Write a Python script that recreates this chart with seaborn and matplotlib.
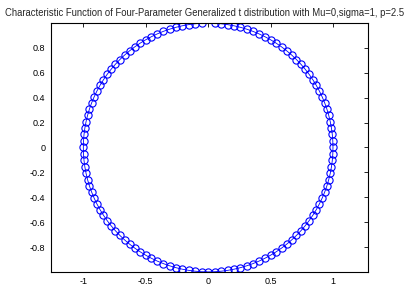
import numpy as np
import seaborn as sns
from matplotlib import pyplot as plt

# angles (degrees) of the plotted points on the unit circle, in drawing order
angle_deg = [87, 84, 81, 78, 75, 72, 69, 66, 63, 60, 57, 54, 51, 48, 45,
             42, 39, 36, 33, 30, 27, 24, 21, 18, 15, 12, 9, 6, 3, 0,
             357, 354, 351, 348, 345, 342, 339, 336, 333, 330, 327, 324,
             321, 318, 315, 312, 309, 306, 303, 300, 297, 294, 291, 288,
             285, 282, 279, 276, 273, 270, 267, 264, 261, 258, 255, 252,
             249, 246, 243, 240, 237, 234, 231, 228, 225, 222, 219, 216,
             213, 210, 207, 204, 201, 198, 195, 192, 189, 186, 183, 180,
             177, 174, 171, 168, 165, 162, 159, 156, 153, 150, 147, 144,
             141, 138, 135, 132, 129, 126, 123, 120, 117, 114, 111, 108,
             105, 102, 99, 96, 93]
radius = 1.0

x_ticks = [-1, -0.5, 0, 0.5, 1]
x_labels = ['-1', '-0.5', '0', '0.5', '1']
y_ticks = [-0.8, -0.6, -0.4, -0.2, 0, 0.2, 0.4, 0.6, 0.8]
y_labels = ['-0.8', '-0.6', '-0.4', '-0.2', '0', '0.2', '0.4', '0.6', '0.8']
title = ('Characteristic Function of Four-Parameter Generalized t '
         'distribution with Mu=0,sigma=1, p=2.5')

theta = np.deg2rad(angle_deg)
re = radius * np.cos(theta)
im = radius * np.sin(theta)

sns.set_style('white')
plt.rcParams['font.family'] = ['Liberation Sans', 'DejaVu Sans']

fig = plt.figure(figsize=(4.07, 2.85), dpi=100)
ax = fig.add_axes([0.125, 0.046, 0.779, 0.873])

# estimator=None keeps every point (the circle has repeated x values)
sns.lineplot(x=re, y=im, sort=False, estimator=None, ax=ax, color='blue',
             linewidth=0.6, marker='o', markersize=5.2,
             markerfacecolor='none', markeredgecolor='blue',
             markeredgewidth=0.8)

ax.set_xlim(-1.26, 1.28)
ax.set_ylim(-1, 1)
ax.set_xticks(x_ticks)
ax.set_xticklabels(x_labels)
ax.set_yticks(y_ticks)
ax.set_yticklabels(y_labels)
ax.tick_params(direction='in', length=3, width=0.6, labelsize=6.5,
               top=True, right=True, colors='black', pad=4)
for s in ax.spines.values():
    s.set_color('black')
    s.set_linewidth(0.8)

# title is a bit wider than the axes, so centre it on the figure
fig.text(0.503, 0.955, title, ha='center', va='center', fontsize=6.85)

fig.savefig('out.png', dpi=100)
